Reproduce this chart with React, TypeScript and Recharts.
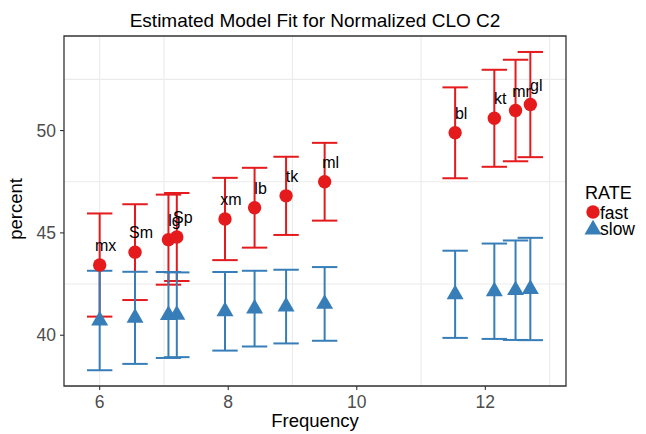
import React from 'react';
import { ScatterChart, Scatter, XAxis, YAxis, CartesianGrid, ErrorBar, ReferenceArea, Customized } from 'recharts';

const speakers = ['mx', 'Sm', 'lg', 'Sp', 'xm', 'lb', 'tk', 'ml', 'bl', 'kt', 'mr', 'gl'];
const frequency = [6.0, 6.55, 7.07, 7.2, 7.95, 8.41, 8.9, 9.5, 11.53, 12.14, 12.47, 12.7];
const fastPercent = [43.43, 44.06, 44.67, 44.8, 45.68, 46.23, 46.81, 47.5, 49.89, 50.6, 50.98, 51.27];
const fastErr = [2.52, 2.34, 2.2, 2.15, 2.01, 1.95, 1.91, 1.9, 2.22, 2.37, 2.48, 2.57];
const slowPercent = [40.72, 40.85, 40.99, 41.0, 41.17, 41.3, 41.4, 41.53, 42.0, 42.15, 42.2, 42.26];
const slowErr = [2.43, 2.25, 2.1, 2.07, 1.92, 1.85, 1.8, 1.8, 2.13, 2.33, 2.43, 2.5];

const xTicks = [6, 8, 10, 12];
const xMinor = [7, 9, 11, 13];
const yTicks = [40, 45, 50];
const yMinor = [37.5, 42.5, 47.5, 52.5];
const xDomain: [number, number] = [5.445, 13.255];
const yDomain: [number, number] = [37.52, 54.62];

const FAST = '#E41A1C';
const SLOW = '#377EB8';
const FONT = '"Liberation Sans", Arial, Helvetica, sans-serif';

const fastData = speakers.map((s, i) => ({ speaker: s, freq: frequency[i], percent: fastPercent[i], err: fastErr[i] }));
const slowData = speakers.map((s, i) => ({ speaker: s, freq: frequency[i], percent: slowPercent[i], err: slowErr[i] }));

const Dot = (p: any) => <circle cx={p.cx} cy={p.cy} r={6.7} fill={FAST} />;

const triPoints = (cx: number, cy: number, s: number) => {
  const r = 1.555 * s;
  const xc = 1.347 * s;
  const yc = 0.778 * s;
  return `${cx},${cy - r} ${cx + xc},${cy + yc} ${cx - xc},${cy + yc}`;
};
const Tri = (p: any) => <polygon points={triPoints(p.cx, p.cy, 6.3)} fill={SLOW} />;

const LabelShape = (p: any) => (
  <text x={p.cx + 6} y={p.cy - 14} textAnchor="middle" fontSize={16} fontFamily={FONT} fill="#000">
    {p.payload ? p.payload.speaker : p.speaker}
  </text>
);

const Title = () => (
  <text x={315} y={27} textAnchor="middle" fontSize={19} fontFamily={FONT} fill="#000">
    Estimated Model Fit for Normalized CLO C2
  </text>
);

const LegendBox = () => (
  <g fontFamily={FONT}>
    <text x={585} y={199} fontSize={18} fill="#000">RATE</text>
    <circle cx={593} cy={212} r={6.7} fill={FAST} />
    <text x={600} y={219} fontSize={17.5} fill="#000">fast</text>
    <polygon points={triPoints(593, 229.5, 6.3)} fill={SLOW} />
    <text x={600} y={235} fontSize={17.5} fill="#000">slow</text>
  </g>
);

const XLabel = (p: any) => {
  const vb = p.viewBox || { x: 64, y: 386, width: 502, height: 48 };
  return (
    <text x={vb.x + vb.width / 2} y={427} textAnchor="middle" fontSize={18.5} fontFamily={FONT} fill="#000">
      Frequency
    </text>
  );
};

const YLabel = (p: any) => {
  const vb = p.viewBox || { x: 0, y: 36, width: 64, height: 350 };
  const cy = vb.y + vb.height / 2 - 2;
  return (
    <text x={22} y={cy} transform={`rotate(-90 22 ${cy})`} textAnchor="middle" fontSize={18.5} fontFamily={FONT} fill="#000">
      percent
    </text>
  );
};

export default function App() {
  return (
    <div style={{ position: 'absolute', left: 0, top: 0, width: 646, height: 434, background: '#fff' }}>
      <ScatterChart width={646} height={434} margin={{ top: 36, right: 80, bottom: 0, left: 0 }}>
        <CartesianGrid
          stroke="#EBEBEB"
          strokeWidth={1.1}
          verticalValues={[...xTicks, ...xMinor]}
          horizontalValues={[...yTicks, ...yMinor]}
        />
        <XAxis
          type="number"
          dataKey="freq"
          domain={xDomain}
          ticks={xTicks}
          allowDataOverflow
          height={48}
          tickSize={4}
          tickMargin={6}
          axisLine={false}
          tickLine={{ stroke: '#333333', strokeWidth: 1.1 }}
          tick={{ fill: '#4D4D4D', fontSize: 17.5, fontFamily: FONT }}
          label={<XLabel />}
        />
        <YAxis
          type="number"
          dataKey="percent"
          domain={yDomain}
          ticks={yTicks}
          allowDataOverflow
          width={64}
          tickSize={4}
          tickMargin={4}
          axisLine={false}
          tickLine={{ stroke: '#333333', strokeWidth: 1.1 }}
          tick={{ fill: '#4D4D4D', fontSize: 17.5, fontFamily: FONT }}
          label={<YLabel />}
        />
        <ReferenceArea x1={xDomain[0]} x2={xDomain[1]} y1={yDomain[0]} y2={yDomain[1]} fill="none" stroke="#333333" strokeWidth={1.3} fillOpacity={0} />
        <Scatter name="fast" data={fastData} shape={<Dot />} isAnimationActive={false}>
          <ErrorBar dataKey="err" direction="y" width={12.7} stroke={FAST} strokeWidth={2} />
        </Scatter>
        <Scatter name="slow" data={slowData} shape={<Tri />} isAnimationActive={false}>
          <ErrorBar dataKey="err" direction="y" width={12.7} stroke={SLOW} strokeWidth={2} />
        </Scatter>
        <Scatter name="labels" data={fastData} shape={<LabelShape />} legendType="none" isAnimationActive={false} />
        <Customized component={Title} />
        <Customized component={LegendBox} />
      </ScatterChart>
    </div>
  );
}
